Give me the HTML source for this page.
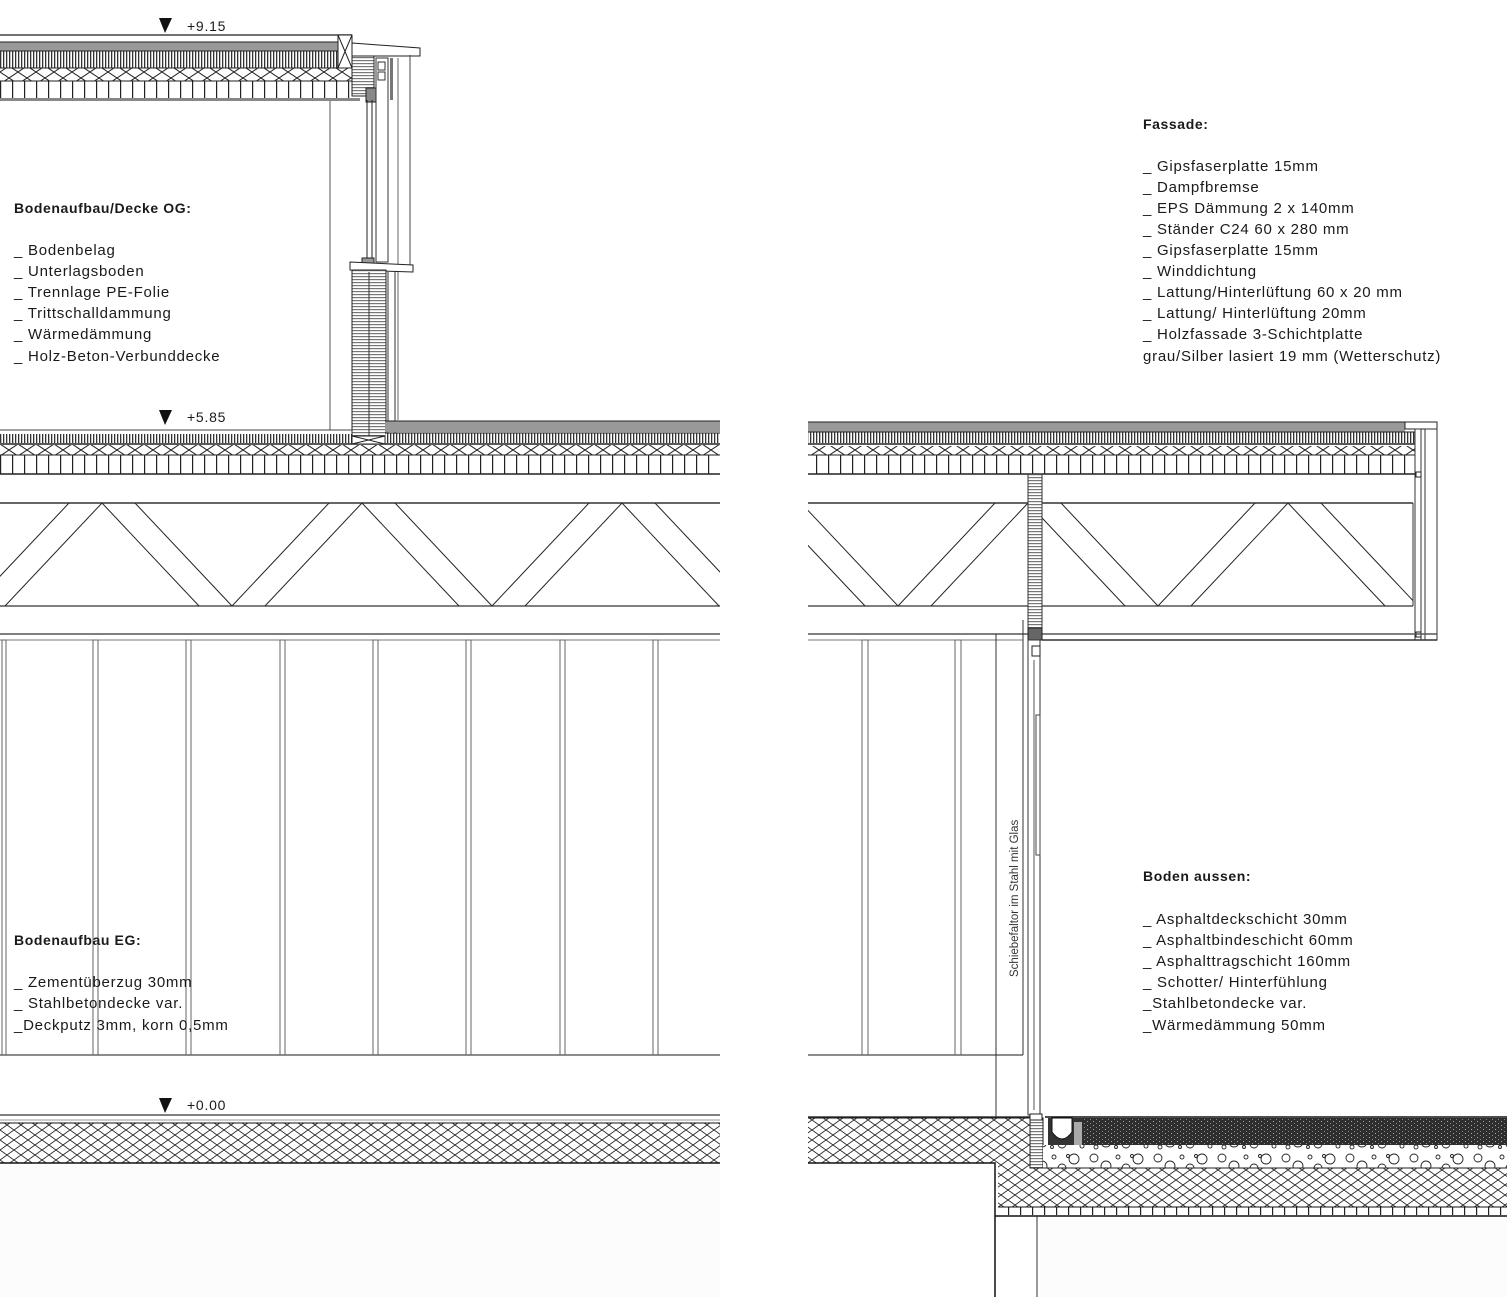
<!DOCTYPE html>
<html><head><meta charset="utf-8">
<style>
html,body{margin:0;padding:0;background:#fff;}
svg{display:block;}
text{font-family:"Liberation Sans",sans-serif;fill:#1a1a1a;}
.t{font-size:15px;letter-spacing:0.75px;}
.h{font-size:14px;font-weight:bold;letter-spacing:0.6px;}
</style></head>
<body>
<svg width="1507" height="1297" viewBox="0 0 1507 1297" xmlns="http://www.w3.org/2000/svg">
<defs>
<pattern id="vs" width="3" height="10" patternUnits="userSpaceOnUse"><rect width="3" height="10" fill="#fff"/><rect x="0" width="1.3" height="10" fill="#333"/></pattern>
<pattern id="hs" width="10" height="3" patternUnits="userSpaceOnUse"><rect width="10" height="3" fill="#fff"/><rect y="0" width="10" height="1.2" fill="#777"/></pattern>
<pattern id="box" width="12" height="30" patternUnits="userSpaceOnUse"><rect width="12" height="30" fill="#fff"/><rect x="0" width="1.2" height="30" fill="#222"/></pattern>
<pattern id="xr" width="18" height="12" patternUnits="userSpaceOnUse"><rect width="18" height="12" fill="#fff"/><path d="M0 0L18 12M18 0L0 12" stroke="#222" stroke-width="1"/></pattern>
<pattern id="xh" width="14" height="10" patternUnits="userSpaceOnUse"><rect width="14" height="10" fill="#fff"/><path d="M0 0L14 10M14 0L0 10" stroke="#222" stroke-width="0.9"/></pattern>
<pattern id="asp" width="6" height="4" patternUnits="userSpaceOnUse"><rect width="6" height="4" fill="#2e2e2e"/><rect x="1" y="1" width="1" height="1" fill="#aaa"/><rect x="4" y="3" width="1" height="1" fill="#888"/></pattern>
<pattern id="grav" width="64" height="24" patternUnits="userSpaceOnUse"><rect width="64" height="24" fill="#fff"/>
<g fill="none" stroke="#222" stroke-width="0.9"><circle cx="6" cy="6" r="4"/><circle cx="18" cy="14" r="5"/><circle cx="30" cy="5" r="2"/><circle cx="38" cy="16" r="4"/><circle cx="50" cy="7" r="5"/><circle cx="58" cy="18" r="2"/><circle cx="8" cy="19" r="2"/><circle cx="28" cy="19" r="1.5"/><circle cx="44" cy="4" r="1.5"/></g></pattern>
<clipPath id="cl"><rect x="0" y="503" width="720" height="103"/></clipPath>
<clipPath id="cr"><rect x="808" y="503" width="605" height="103"/></clipPath>
</defs>

<!-- ============ LEFT ROOF ============ -->
<line x1="0" y1="35" x2="352" y2="35" stroke="#444" stroke-width="1.5"/>
<polygon points="159,18 172,18 165,33" fill="#111"/>
<text x="187" y="31" class="t" style="font-size:14px">+9.15</text>
<rect x="0" y="42" width="338" height="9" fill="#999"/>
<line x1="0" y1="42" x2="338" y2="42" stroke="#222"/>
<rect x="0" y="51" width="338" height="17" fill="url(#vs)"/>
<line x1="0" y1="51" x2="338" y2="51" stroke="#222"/>
<rect x="0" y="68" width="352" height="13" fill="url(#xr)"/>
<line x1="0" y1="68" x2="352" y2="68" stroke="#222"/>
<rect x="0" y="81" width="357" height="18" fill="url(#box)"/>
<line x1="0" y1="81" x2="357" y2="81" stroke="#222"/>
<rect x="0" y="98" width="360" height="3" fill="#888"/>
<rect x="338" y="35" width="14" height="33" fill="#fff" stroke="#222"/>
<path d="M338 35L352 68M352 35L338 68" stroke="#222"/>
<polygon points="352,43 420,48 420,56 352,56" fill="#fff" stroke="#222"/>
<rect x="352" y="56" width="22" height="40" fill="url(#hs)" stroke="#222"/>
<line x1="330" y1="101" x2="330" y2="430" stroke="#555"/>
<!-- wall -->
<rect x="366" y="88" width="10" height="14" fill="#888" stroke="#222"/>
<line x1="367" y1="100" x2="367" y2="262" stroke="#222"/>
<line x1="372" y1="100" x2="372" y2="262" stroke="#222"/>
<rect x="376" y="58" width="12" height="204" fill="#fff" stroke="#333"/>
<rect x="378" y="62" width="7" height="8" fill="#fff" stroke="#333"/>
<rect x="378" y="72" width="7" height="8" fill="#fff" stroke="#333"/>
<rect x="390" y="58" width="3" height="42" fill="#777"/>
<line x1="410" y1="55" x2="410" y2="268" stroke="#444"/>
<line x1="398" y1="58" x2="398" y2="420" stroke="#666"/>
<rect x="362" y="258" width="12" height="10" fill="#999" stroke="#222"/>
<polygon points="350,262 413,265 413,272 350,270" fill="#fff" stroke="#222"/>
<rect x="352" y="270" width="34" height="170" fill="url(#hs)" stroke="#222"/>
<line x1="369" y1="272" x2="369" y2="440" stroke="#333"/>
<line x1="388" y1="272" x2="388" y2="440" stroke="#333"/>
<line x1="395" y1="272" x2="395" y2="440" stroke="#333"/>
<!-- OG floor -->
<polygon points="159,410 172,410 165,425" fill="#111"/>
<text x="187" y="422" class="t" style="font-size:14px">+5.85</text>
<line x1="0" y1="430" x2="352" y2="430" stroke="#444"/>
<rect x="0" y="434" width="352" height="9" fill="url(#vs)"/>
<rect x="385" y="421" width="335" height="11" fill="#999"/>
<line x1="385" y1="421" x2="720" y2="421" stroke="#222"/>
<rect x="385" y="433" width="335" height="10" fill="url(#vs)"/>
<line x1="385" y1="433" x2="720" y2="433" stroke="#222"/>
<line x1="0" y1="444" x2="720" y2="444" stroke="#222" stroke-width="1.5"/>
<rect x="0" y="445" width="720" height="10" fill="url(#xr)"/>
<rect x="0" y="455" width="720" height="19" fill="url(#box)"/>
<line x1="0" y1="455" x2="720" y2="455" stroke="#222"/>
<line x1="0" y1="474" x2="720" y2="474" stroke="#222" stroke-width="1.5"/>
<rect x="352" y="436" width="33" height="8" fill="#fff" stroke="#222"/>
<path d="M352 436L385 444M385 436L352 444" stroke="#222"/>
<!-- truss left -->
<line x1="0" y1="503" x2="720" y2="503" stroke="#666" stroke-width="2"/>
<line x1="0" y1="606" x2="720" y2="606" stroke="#555" stroke-width="1.5"/>
<line x1="0" y1="634" x2="720" y2="634" stroke="#555" stroke-width="1.5"/>
<line x1="0" y1="640" x2="720" y2="640" stroke="#777"/>
<g clip-path="url(#cl)" stroke="#222" stroke-width="1">
<path d="M-158 503L-255 606M-158 503L-61 606M102 503L5 606M102 503L199 606M362 503L265 606M362 503L459 606M622 503L525 606M622 503L719 606M882 503L785 606"/>
<path d="M-28 606L-125 503M-28 606L69 503M232 606L135 503M232 606L329 503M492 606L395 503M492 606L589 503M752 606L655 503"/>
</g>
<!-- columns left -->
<g fill="#fff" stroke="#666">
<rect x="2" y="640" width="4" height="415"/>
<rect x="93" y="640" width="5" height="415"/>
<rect x="186" y="640" width="5" height="415"/>
<rect x="280" y="640" width="5" height="415"/>
<rect x="373" y="640" width="5" height="415"/>
<rect x="466" y="640" width="5" height="415"/>
<rect x="560" y="640" width="5" height="415"/>
<rect x="653" y="640" width="5" height="415"/>
</g>
<line x1="0" y1="1055" x2="720" y2="1055" stroke="#666" stroke-width="1.5"/>
<!-- ground left -->
<polygon points="159,1098 172,1098 165,1113" fill="#111"/>
<text x="187" y="1110" class="t" style="font-size:14px">+0.00</text>
<line x1="0" y1="1115" x2="720" y2="1115" stroke="#555" stroke-width="1.5"/>
<line x1="0" y1="1120" x2="720" y2="1120" stroke="#999"/>
<rect x="0" y="1123" width="720" height="40" fill="url(#xh)"/>
<line x1="0" y1="1123" x2="720" y2="1123" stroke="#111"/>
<line x1="0" y1="1163" x2="720" y2="1163" stroke="#111" stroke-width="1.5"/>
<rect x="0" y="1166" width="720" height="131" fill="#fcfcfc"/>

<!-- ============ RIGHT ============ -->
<rect x="808" y="422" width="597" height="10" fill="#999"/>
<line x1="808" y1="422" x2="1405" y2="422" stroke="#222"/>
<rect x="1405" y="422" width="32" height="7" fill="#fff" stroke="#222"/>
<rect x="808" y="432" width="607" height="11" fill="url(#vs)"/>
<line x1="808" y1="432" x2="1415" y2="432" stroke="#222"/>
<line x1="808" y1="444" x2="1415" y2="444" stroke="#222" stroke-width="1.5"/>
<rect x="808" y="446" width="607" height="9" fill="url(#xr)"/>
<rect x="808" y="455" width="607" height="19" fill="url(#box)"/>
<line x1="808" y1="455" x2="1415" y2="455" stroke="#222"/>
<line x1="808" y1="474" x2="1420" y2="474" stroke="#222" stroke-width="1.5"/>
<rect x="1415" y="429" width="6" height="211" fill="#fff" stroke="#333"/>
<rect x="1425" y="429" width="12" height="211" fill="#fff" stroke="#333"/>
<rect x="1416" y="472" width="5" height="5" fill="#fff" stroke="#222"/>
<rect x="1416" y="632" width="5" height="5" fill="#fff" stroke="#222"/>
<!-- truss right -->
<line x1="808" y1="503" x2="1413" y2="503" stroke="#666" stroke-width="2"/>
<line x1="808" y1="606" x2="1413" y2="606" stroke="#555" stroke-width="1.5"/>
<line x1="1413" y1="503" x2="1413" y2="606" stroke="#333"/>
<line x1="808" y1="634" x2="1437" y2="634" stroke="#555" stroke-width="1.5"/>
<line x1="1042" y1="640" x2="1437" y2="640" stroke="#333" stroke-width="1.5"/>
<line x1="808" y1="640" x2="1023" y2="640" stroke="#777"/>
<g clip-path="url(#cr)" stroke="#222" stroke-width="1">
<path d="M768 503L671 606M768 503L865 606M1028 503L931 606M1028 503L1125 606M1288 503L1191 606M1288 503L1385 606"/>
<path d="M898 606L801 503M898 606L995 503M1158 606L1061 503M1158 606L1255 503M1418 606L1321 503"/>
</g>
<rect x="1028" y="474" width="14" height="155" fill="url(#hs)" stroke="#333"/>
<rect x="1028" y="628" width="14" height="12" fill="#666" stroke="#222"/>
<!-- right lower walls -->
<rect x="862" y="640" width="6" height="415" fill="#fff" stroke="#666"/>
<rect x="955" y="640" width="6" height="415" fill="#fff" stroke="#666"/>
<line x1="808" y1="1055" x2="1023" y2="1055" stroke="#666" stroke-width="1.5"/>
<line x1="996" y1="634" x2="996" y2="1118" stroke="#333"/>
<line x1="1023" y1="620" x2="1023" y2="1055" stroke="#333"/>
<rect x="1028" y="640" width="12" height="475" fill="#fff" stroke="#333"/>
<line x1="1034" y1="660" x2="1034" y2="1110" stroke="#555"/>
<rect x="1032" y="646" width="8" height="10" fill="#fff" stroke="#222"/>
<rect x="1036" y="715" width="4" height="140" fill="#fff" stroke="#444"/>
<text transform="translate(1018,977) rotate(-90)" style="font-size:11.5px;fill:#333">Schiebefaltor im Stahl mit Glas</text>
<!-- ground right -->
<line x1="808" y1="1117" x2="1030" y2="1117" stroke="#333" stroke-width="1.5"/>
<polygon points="808,1118 1032,1118 1032,1207 998,1207 998,1163 808,1163" fill="url(#xh)"/>
<rect x="998" y="1163" width="509" height="44" fill="url(#xh)"/>
<line x1="808" y1="1118" x2="1030" y2="1118" stroke="#111"/>
<path d="M808 1163L995 1163L995 1297" fill="none" stroke="#111" stroke-width="1.5"/>
<rect x="998" y="1207" width="509" height="8" fill="url(#box)"/>
<line x1="998" y1="1207" x2="1507" y2="1207" stroke="#111"/>
<line x1="995" y1="1216" x2="1507" y2="1216" stroke="#111" stroke-width="1.5"/>
<line x1="1037" y1="1216" x2="1037" y2="1297" stroke="#333"/>
<rect x="1040" y="1218" width="467" height="79" fill="#fcfcfc"/>
<rect x="1030" y="1118" width="13" height="50" fill="url(#hs)" stroke="#222"/>
<rect x="1030" y="1114" width="12" height="6" fill="#fff" stroke="#222"/>
<rect x="1043" y="1145" width="464" height="23" fill="url(#grav)"/>
<line x1="1043" y1="1168" x2="1507" y2="1168" stroke="#222"/>
<rect x="1082" y="1118" width="425" height="27" fill="url(#asp)"/>
<line x1="1045" y1="1117" x2="1507" y2="1117" stroke="#111" stroke-width="1.5"/>
<rect x="1048" y="1118" width="34" height="27" fill="#333"/>
<path d="M1052 1118L1052 1132Q1062 1146 1072 1132L1072 1118Z" fill="#fff" stroke="#111"/>
<rect x="1074" y="1122" width="8" height="23" fill="#aaa"/>

<!-- ============ TEXT ============ -->
<text x="14" y="213" class="h">Bodenaufbau/Decke OG:</text>
<text x="14" y="255" class="t">_ Bodenbelag</text>
<text x="14" y="276" class="t">_ Unterlagsboden</text>
<text x="14" y="297" class="t">_ Trennlage PE-Folie</text>
<text x="14" y="318" class="t">_ Trittschalldammung</text>
<text x="14" y="339" class="t">_ Wärmedämmung</text>
<text x="14" y="361" class="t">_ Holz-Beton-Verbunddecke</text>

<text x="14" y="945" class="h">Bodenaufbau EG:</text>
<text x="14" y="987" class="t">_ Zementüberzug 30mm</text>
<text x="14" y="1008" class="t">_ Stahlbetondecke var.</text>
<text x="14" y="1030" class="t">_Deckputz 3mm, korn 0,5mm</text>

<text x="1143" y="129" class="h">Fassade:</text>
<text x="1143" y="171" class="t">_ Gipsfaserplatte 15mm</text>
<text x="1143" y="192" class="t">_ Dampfbremse</text>
<text x="1143" y="213" class="t">_ EPS Dämmung 2 x 140mm</text>
<text x="1143" y="234" class="t">_ Ständer C24 60 x 280 mm</text>
<text x="1143" y="255" class="t">_ Gipsfaserplatte 15mm</text>
<text x="1143" y="276" class="t">_ Winddichtung</text>
<text x="1143" y="297" class="t">_ Lattung/Hinterlüftung 60 x 20 mm</text>
<text x="1143" y="318" class="t">_ Lattung/ Hinterlüftung 20mm</text>
<text x="1143" y="339" class="t">_ Holzfassade 3-Schichtplatte</text>
<text x="1143" y="361" class="t">grau/Silber lasiert 19 mm (Wetterschutz)</text>

<text x="1143" y="881" class="h">Boden aussen:</text>
<text x="1143" y="924" class="t">_ Asphaltdeckschicht 30mm</text>
<text x="1143" y="945" class="t">_ Asphaltbindeschicht 60mm</text>
<text x="1143" y="966" class="t">_ Asphalttragschicht 160mm</text>
<text x="1143" y="987" class="t">_ Schotter/ Hinterfühlung</text>
<text x="1143" y="1008" class="t">_Stahlbetondecke var.</text>
<text x="1143" y="1030" class="t">_Wärmedämmung 50mm</text>
</svg>
</body></html>
